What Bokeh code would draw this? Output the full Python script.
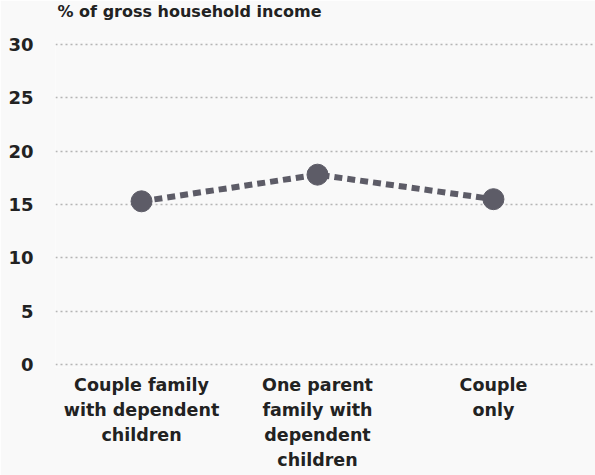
from bokeh.plotting import figure
from bokeh.models import Range1d, FixedTicker, ColumnDataSource, Title
from bokeh.embed import file_html
from bokeh.resources import INLINE

categories = ["Couple family\nwith dependent\nchildren",
              "One parent\nfamily with\ndependent\nchildren",
              "Couple\nonly"]
values = [15.3, 17.8, 15.5]
y_ticks = [0, 5, 10, 15, 20, 25, 30]
title_text = "% of gross household income"

FONT = "DejaVu Sans"
TEXT = "#222222"
MARK = "#5d5c67"
BG = "#f9f9f9"

xs = list(range(len(categories)))
src = ColumnDataSource(dict(x=xs, y=values))

p = figure(width=595, height=475, output_backend="svg", toolbar_location=None,
           x_range=Range1d(-0.489, 2.58), y_range=Range1d(-0.3, 30.3),
           min_border_left=55, min_border_right=0, min_border_top=41,
           min_border_bottom=108)
p.background_fill_color = BG
p.border_fill_color = BG
p.outline_line_color = None

# trailing newline adds an empty second line below the title, lifting it up
t = Title(text=title_text + "\n ", align="left", vertical_align="top",
          text_font=FONT, text_font_size="16px", text_font_style="bold",
          text_color=TEXT, offset=2, standoff=0, text_line_height=1.0)
p.add_layout(t, "above")

p.line("x", "y", source=src, line_color=MARK, line_width=6, line_dash="8 5")
p.scatter("x", "y", source=src, size=21, fill_color=MARK, line_color=MARK)

p.xgrid.visible = False
p.ygrid.ticker = FixedTicker(ticks=y_ticks)
p.ygrid.grid_line_color = "#b5b5b5"
p.ygrid.grid_line_width = 1.5
p.ygrid.grid_line_dash = "2 3"

p.yaxis.ticker = FixedTicker(ticks=y_ticks)
p.xaxis.ticker = FixedTicker(ticks=xs)
p.xaxis.major_label_overrides = {i: c for i, c in enumerate(categories)}

for ax in (p.xaxis[0], p.yaxis[0]):
    ax.axis_line_color = None
    ax.major_tick_line_color = None
    ax.minor_tick_line_color = None
    ax.major_tick_out = 0
    ax.major_tick_in = 0
    ax.minor_tick_out = 0
    ax.major_label_text_font = FONT
    ax.major_label_text_font_style = "bold"
    ax.major_label_text_color = TEXT

p.yaxis.major_label_text_font_size = "18px"
p.xaxis.major_label_text_font_size = "17.5px"
p.yaxis.major_label_standoff = 22
p.xaxis.major_label_standoff = 7
p.xaxis.major_label_text_line_height = 1.26

open("out.html", "w").write(file_html(p, INLINE))
